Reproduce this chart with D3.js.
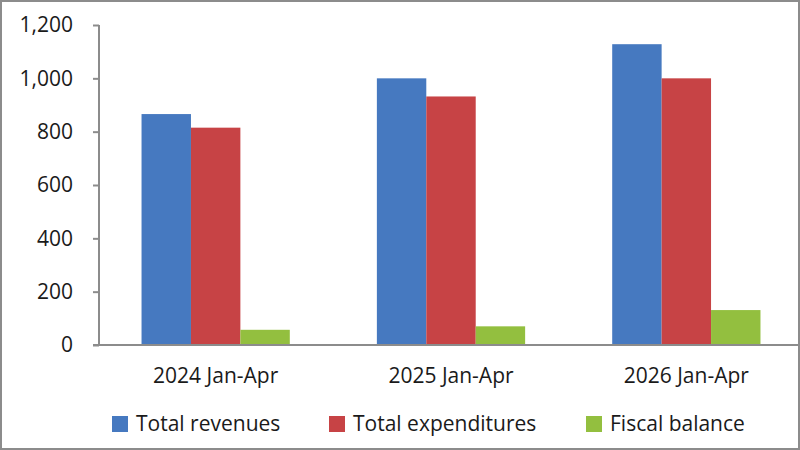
<html>
<head>
<script src="https://d3js.org/d3.v7.min.js"></script>
<style>
body { margin: 0; background: #fff; }
svg { display: block; font-family: 'Open Sans', sans-serif; }
</style>
</head>
<body>
<svg></svg>
<script>

// Chart data
var periods = ["2024 Jan-Apr", "2025 Jan-Apr", "2026 Jan-Apr"];
var seriesNames = ["Total revenues", "Total expenditures", "Fiscal balance"];
var revenues = [866, 1000, 1128];
var expenditures = [815, 932, 1000];
var balance = [57, 70, 131];
var yTicks = [0, 200, 400, 600, 800, 1000, 1200];
var colors = ["#4679c0", "#c74345", "#93bf3f"];

var width = 800;
var height = 450;
var fontFamily = "'Open Sans', sans-serif";
var fontSize = 21;

var svg = d3.select("svg").attr("width", width).attr("height", height);

// outer frame
svg.append("rect")
	.attr("x", 1).attr("y", 1)
	.attr("width", width - 2).attr("height", height - 2)
	.attr("fill", "#fff").attr("stroke", "#8c8c8c").attr("stroke-width", 2);

var values = [revenues, expenditures, balance];

var x0 = d3.scaleBand()
	.domain(periods)
	.range([98, 804])
	.paddingInner(0.37)
	.paddingOuter(0.185);

var x1 = d3.scaleBand()
	.domain(seriesNames)
	.range([0, x0.bandwidth()]);

var y = d3.scaleLinear()
	.domain([0, 1200])
	.range([345, 25]);

// bars
seriesNames.forEach(function (name, s) {
	svg.append("g").selectAll("rect")
		.data(periods)
		.enter().append("rect")
		.attr("x", function (d) { return x0(d) + x1(name); })
		.attr("y", function (d, i) { return y(values[s][i]); })
		.attr("width", x1.bandwidth())
		.attr("height", function (d, i) { return y(0) - y(values[s][i]); })
		.attr("fill", colors[s]);
});

// y axis
var yAxis = svg.append("g")
	.attr("transform", "translate(99,0)")
	.call(d3.axisLeft(y).tickValues(yTicks).tickSize(6).tickPadding(20)
		.tickFormat(d3.format(",")));
yAxis.select(".domain").attr("stroke", "#8c8c8c").attr("stroke-width", 2).attr("d", "M0,25V345");
yAxis.selectAll(".tick line").attr("stroke", "#8c8c8c").attr("stroke-width", 2);
yAxis.selectAll(".tick text").attr("font-size", fontSize).attr("fill", "#1a1a1a")
	.attr("font-family", fontFamily);

// baseline
svg.append("line")
	.attr("x1", 93).attr("x2", width - 1)
	.attr("y1", y(0)).attr("y2", y(0))
	.attr("stroke", "#8c8c8c").attr("stroke-width", 2);

// category labels
svg.append("g").selectAll("text")
	.data(periods)
	.enter().append("text")
	.attr("x", function (d) { return x0(d) + x0.bandwidth() / 2; })
	.attr("y", 383)
	.attr("text-anchor", "middle")
	.attr("font-size", fontSize)
	.attr("fill", "#1a1a1a")
	.text(function (d) { return d; });

// legend
var legendX = [112, 329, 586];
var legend = svg.append("g").selectAll("g")
	.data(seriesNames)
	.enter().append("g")
	.attr("transform", function (d, i) { return "translate(" + legendX[i] + ",416)"; });
legend.append("rect")
	.attr("width", 16).attr("height", 16)
	.attr("fill", function (d, i) { return colors[i]; });
legend.append("text")
	.attr("x", 24).attr("y", 15)
	.attr("font-size", fontSize)
	.attr("fill", "#1a1a1a")
	.text(function (d) { return d; });

</script>
</body>
</html>
